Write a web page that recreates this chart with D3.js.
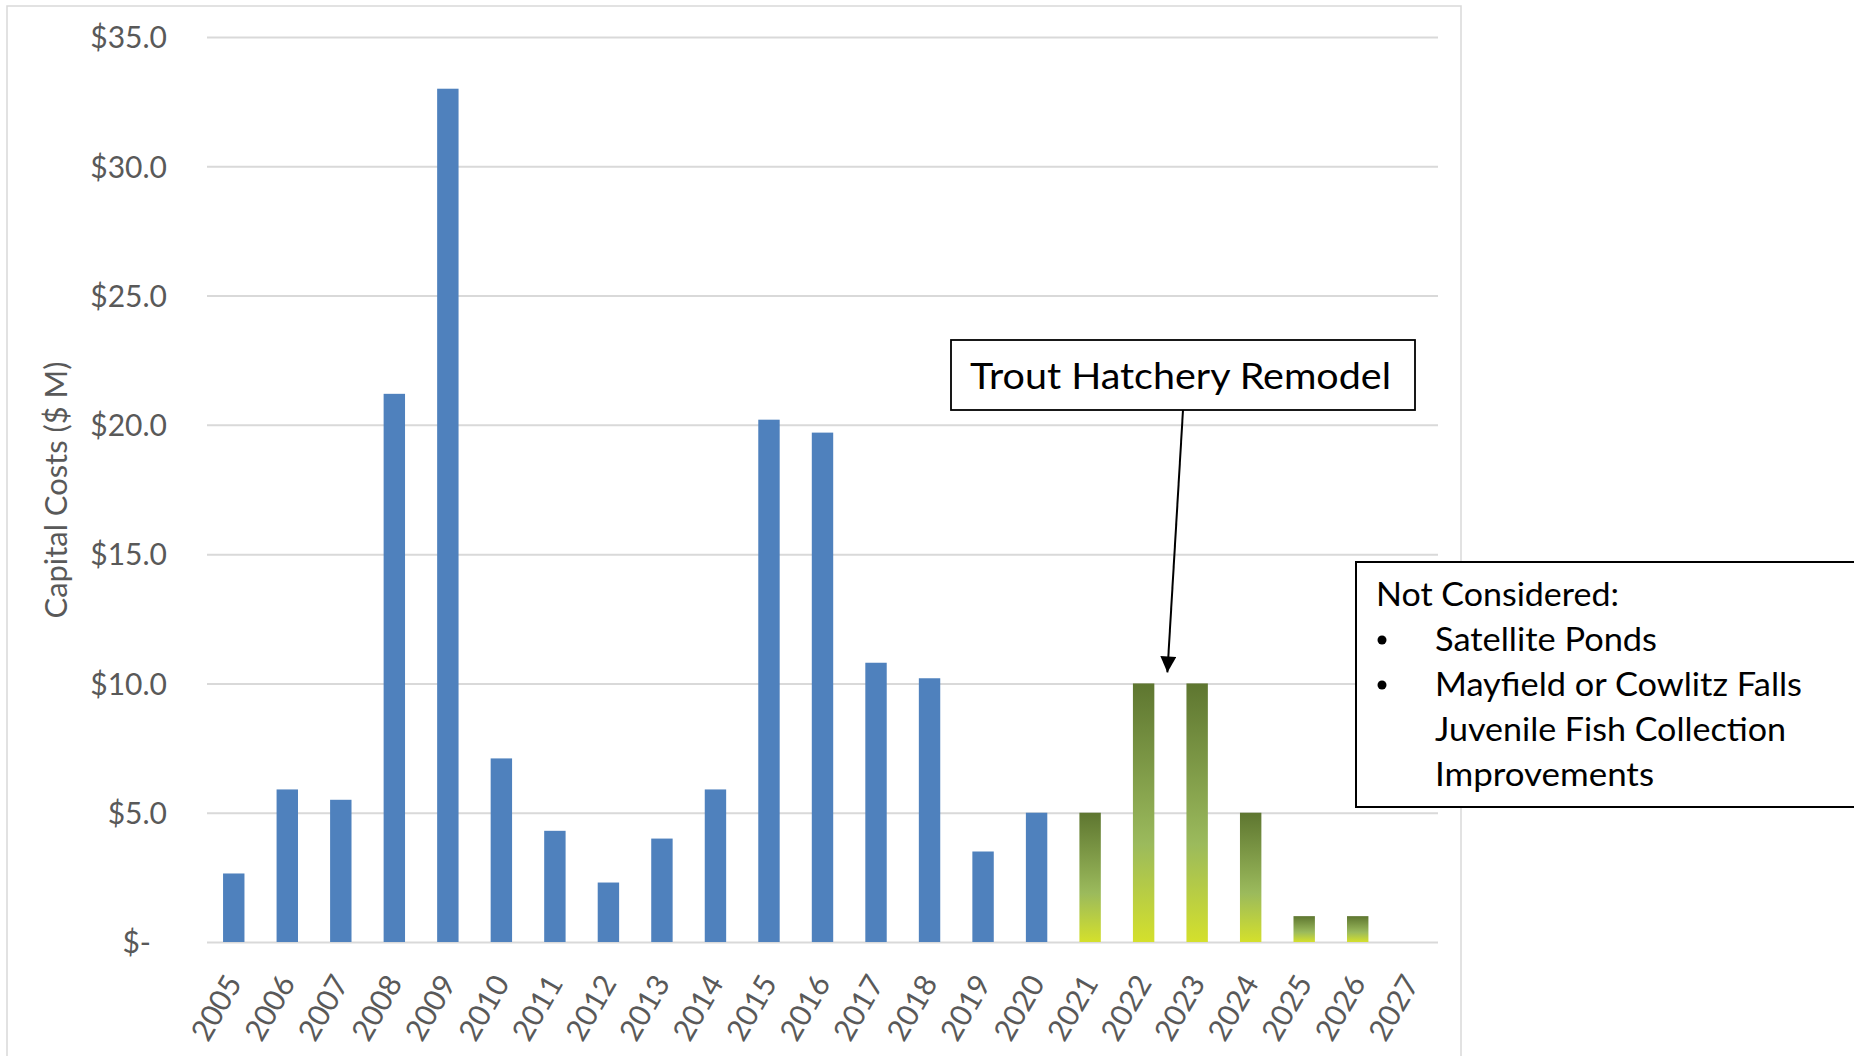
<!DOCTYPE html>
<html>
<head>
<meta charset="utf-8">
<script src="https://cdn.jsdelivr.net/npm/d3@7"></script>
<style>
  html, body { margin: 0; padding: 0; background: #ffffff; }
  svg { display: block; }
  text { font-family: Lato, "Open Sans", sans-serif; }
</style>
</head>
<body>
<svg id="chart" width="1854" height="1056"></svg>
<script>
// ---- Data ----
const years = ["2005","2006","2007","2008","2009","2010","2011","2012","2013","2014","2015","2016",
               "2017","2018","2019","2020","2021","2022","2023","2024","2025","2026","2027"];
const actualCosts = [2.65, 5.9, 5.5, 21.2, 33.0, 7.1, 4.3, 2.3, 4.0, 5.9, 20.2, 19.7,
                     10.8, 10.2, 3.5, 5.0, null, null, null, null, null, null, null];
const projectedCosts = [null, null, null, null, null, null, null, null, null, null, null, null,
                        null, null, null, null, 5.0, 10.0, 10.0, 5.0, 1.0, 1.0, null];
const yTickValues = [0, 5, 10, 15, 20, 25, 30, 35];
const yTickLabels = ["$-", "$5.0", "$10.0", "$15.0", "$20.0", "$25.0", "$30.0", "$35.0"];
const yAxisTitle = "Capital Costs ($ M)";
const calloutText = "Trout Hatchery Remodel";
const calloutYear = "2022";
const calloutValue = 10.0;
const noteTitle = "Not Considered:";
const noteItems = [["Satellite Ponds"], ["Mayfield or Cowlitz Falls", "Juvenile Fish Collection", "Improvements"]];

// ---- Layout ----
const svg = d3.select("#chart");
const plot = { left: 207, right: 1438, top: 37, bottom: 942 };

const x = d3.scaleBand().domain(years).range([plot.left, plot.right])
  .paddingInner(0.6).paddingOuter(0.3);
const y = d3.scaleLinear().domain([0, 35]).range([plot.bottom, plot.top]);

// chart area border
svg.append("rect")
  .attr("x", 7).attr("y", 6).attr("width", 1454).attr("height", 1100)
  .attr("fill", "#ffffff").attr("stroke", "#d9d9d9").attr("stroke-width", 1.5);

// gridlines
const grid = svg.append("g").attr("transform", `translate(${plot.left},0)`)
  .call(d3.axisLeft(y).tickValues(yTickValues).tickSize(-(plot.right - plot.left)).tickFormat(""));
grid.select(".domain").remove();
grid.selectAll(".tick line").attr("stroke", "#d9d9d9").attr("stroke-width", 2);

// y axis labels
const yAxis = svg.append("g").attr("transform", `translate(${plot.left},0)`)
  .call(d3.axisLeft(y).tickValues(yTickValues).tickSize(0).tickPadding(40)
    .tickFormat((d, i) => yTickLabels[i]));
yAxis.select(".domain").remove();
yAxis.selectAll(".tick text")
  .attr("fill", "#595959").attr("font-size", 30).attr("dy", "0.36em")
  .style("font-family", "Lato, 'Open Sans', sans-serif")
  .attr("dx", d => d === 0 ? -16 : 0);

// y axis title
svg.append("text")
  .attr("transform", "translate(56,490) rotate(-90)")
  .attr("text-anchor", "middle").attr("dy", "0.36em")
  .attr("fill", "#595959").attr("font-size", 30)
  .attr("textLength", 257).attr("lengthAdjust", "spacingAndGlyphs")
  .text(yAxisTitle);

// gradient for projected bars
const defs = svg.append("defs");
const grad = defs.append("linearGradient").attr("id", "greenGrad")
  .attr("x1", 0).attr("y1", 0).attr("x2", 0).attr("y2", 1);
grad.append("stop").attr("offset", "0%").attr("stop-color", "#5e7630");
grad.append("stop").attr("offset", "62%").attr("stop-color", "#9bba5c");
grad.append("stop").attr("offset", "100%").attr("stop-color", "#d4e02c");

// bars: actual
svg.append("g").selectAll("rect")
  .data(years.map((yr, i) => ({ yr, v: actualCosts[i] })).filter(d => d.v != null))
  .join("rect")
  .attr("x", d => x(d.yr)).attr("width", x.bandwidth())
  .attr("y", d => y(d.v)).attr("height", d => y(0) - y(d.v))
  .attr("fill", "#4f81bd");

// bars: projected
svg.append("g").selectAll("rect")
  .data(years.map((yr, i) => ({ yr, v: projectedCosts[i] })).filter(d => d.v != null))
  .join("rect")
  .attr("x", d => x(d.yr)).attr("width", x.bandwidth())
  .attr("y", d => y(d.v)).attr("height", d => y(0) - y(d.v))
  .attr("fill", "url(#greenGrad)");

// x axis labels
const xAxis = svg.append("g").attr("transform", `translate(0,${plot.bottom})`)
  .call(d3.axisBottom(x).tickSize(0).tickFormat(d => d));
xAxis.select(".domain").remove();
xAxis.selectAll(".tick text")
  .attr("fill", "#595959").attr("font-size", 30)
  .style("font-family", "Lato, 'Open Sans', sans-serif")
  .attr("text-anchor", "end")
  .attr("x", 0).attr("y", 0).attr("dy", 0)
  .attr("transform", "translate(9,41) rotate(-60)");

// callout box
const cb = { x: 951, y: 340, w: 464, h: 70 };
svg.append("rect").attr("x", cb.x).attr("y", cb.y).attr("width", cb.w).attr("height", cb.h)
  .attr("fill", "#ffffff").attr("stroke", "#000000").attr("stroke-width", 1.8);
svg.append("text").attr("x", 970).attr("y", 389).attr("font-size", 37).attr("fill", "#000")
  .attr("textLength", 421).attr("lengthAdjust", "spacingAndGlyphs").text(calloutText);

// arrow
defs.append("marker").attr("id", "arrowHead").attr("viewBox", "0 0 10 10")
  .attr("refX", 10).attr("refY", 5)
  .attr("markerUnits", "userSpaceOnUse").attr("orient", "auto")
  .attr("markerWidth", 18).attr("markerHeight", 16)
  .append("path").attr("d", "M0,0 L10,5 L0,10 Z").attr("fill", "#000");
const tipX = x(calloutYear) + x.bandwidth() + (x.step() - x.bandwidth()) / 2 - 3;
const tipY = y(calloutValue) - 11;
svg.append("line").attr("x1", 1183).attr("y1", cb.y + cb.h).attr("x2", tipX).attr("y2", tipY)
  .attr("stroke", "#000").attr("stroke-width", 2).attr("marker-end", "url(#arrowHead)");

// note box
svg.append("rect").attr("x", 1356).attr("y", 562).attr("width", 520).attr("height", 245)
  .attr("fill", "#ffffff").attr("stroke", "#000000").attr("stroke-width", 2);
svg.append("text").attr("x", 1376).attr("y", 606).attr("font-size", 32).attr("fill", "#000")
  .attr("textLength", 243).attr("lengthAdjust", "spacingAndGlyphs").text(noteTitle);
const lineWidths = { "Satellite Ponds": 222, "Mayfield or Cowlitz Falls": 367,
                     "Juvenile Fish Collection": 351, "Improvements": 219 };
let baseline = 651;
noteItems.forEach(item => {
  svg.append("circle").attr("cx", 1382).attr("cy", baseline - 11).attr("r", 4.5).attr("fill", "#000");
  item.forEach(line => {
    svg.append("text").attr("x", 1435).attr("y", baseline).attr("font-size", 32).attr("fill", "#000")
      .attr("textLength", lineWidths[line]).attr("lengthAdjust", "spacingAndGlyphs").text(line);
    baseline += 45;
  });
});
</script>
</body>
</html>
